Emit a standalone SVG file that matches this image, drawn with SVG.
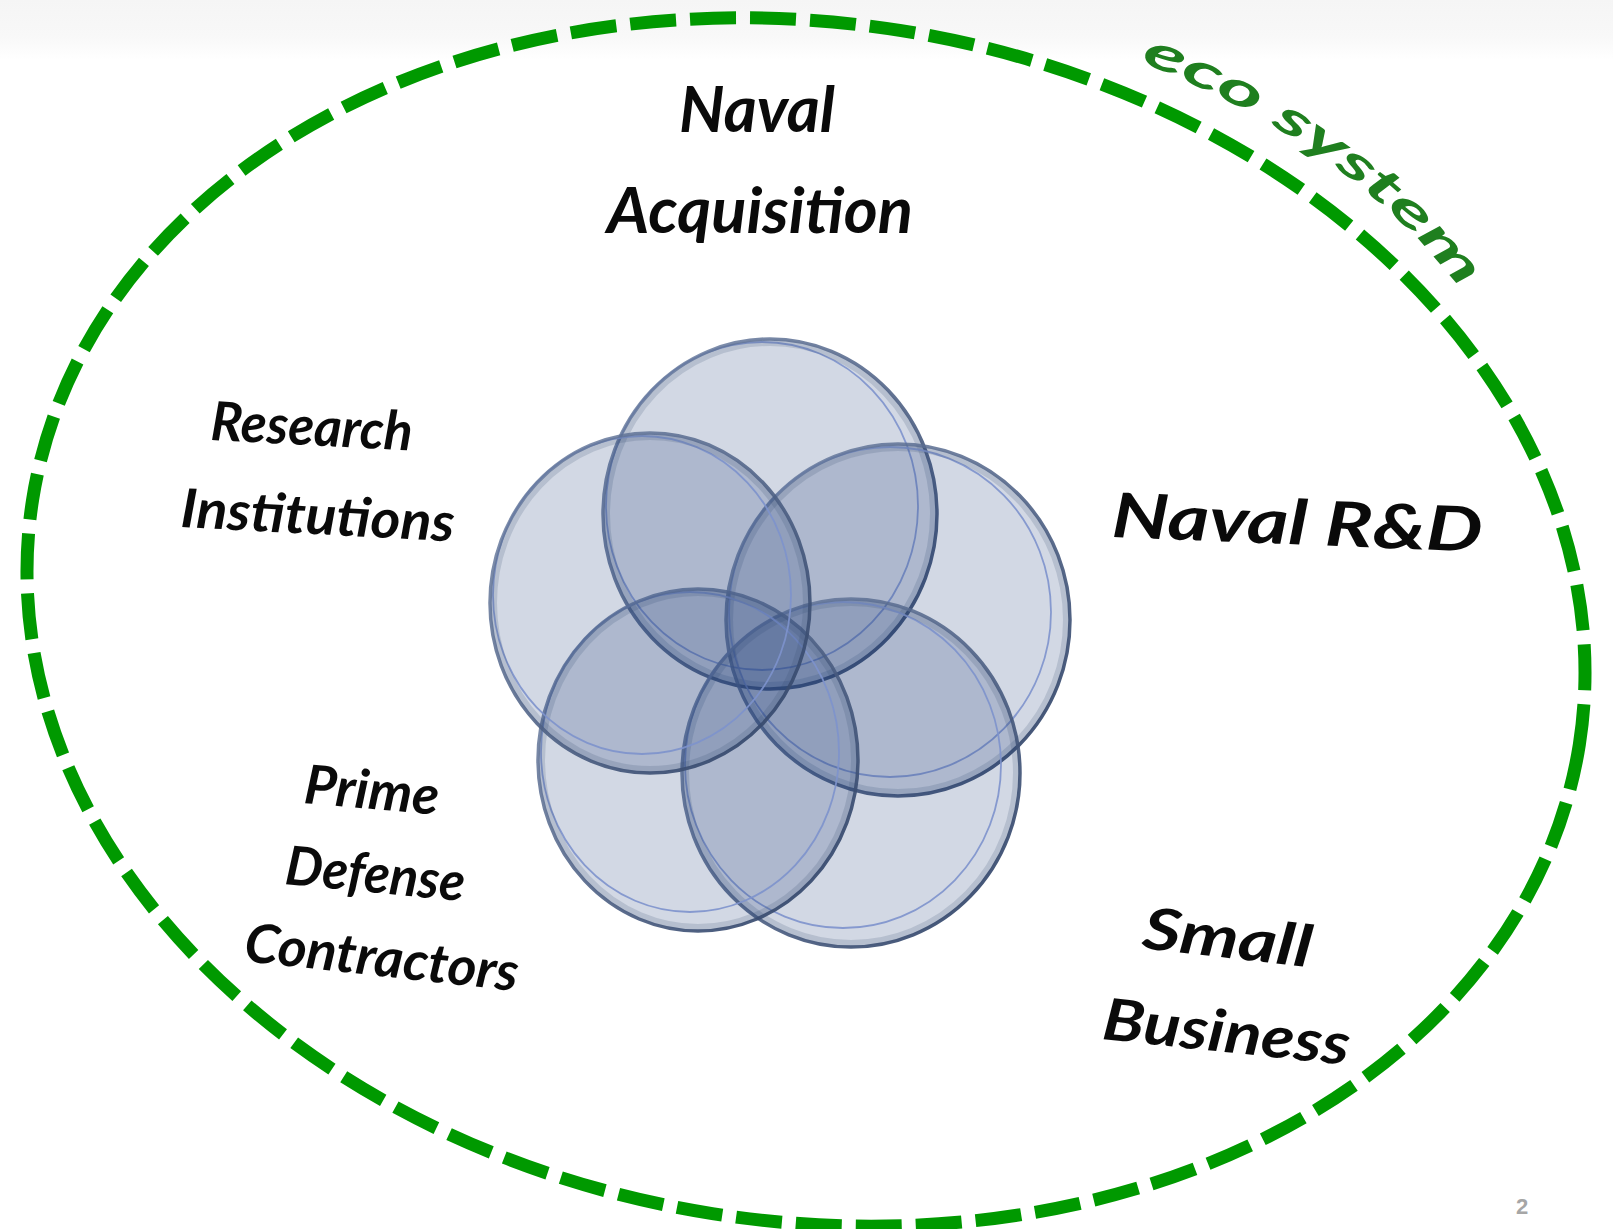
<svg xmlns="http://www.w3.org/2000/svg" width="1613" height="1229" viewBox="0 0 1613 1229">
  <style>
    .lbl { font-family: Lato, "Open Sans", "DejaVu Sans", sans-serif; font-style: italic; font-weight: 700; fill: #0a0a0a; }
    .eco { font-family: Lato, "Open Sans", "DejaVu Sans", sans-serif; font-style: italic; font-weight: 700; fill: #1f7f1f; font-size: 48px; }
    .disc { fill: #1f3a78; fill-opacity: 0.2; }
    .rim { fill: none; stroke: url(#rimGrad); stroke-width: 3.5; }
    .bevel { fill: none; stroke: #3a4d70; stroke-width: 6; stroke-opacity: 0.18; }
    .inner { fill: none; stroke: #7d92cc; stroke-width: 1.8; stroke-opacity: 0.9; }
    .border { fill: none; stroke: #009900; stroke-width: 13; stroke-dasharray: 46 14; }
    .pg { font-family: "Liberation Sans", Arial, sans-serif; font-weight: 700; font-size: 22px; fill: #a6a6a6; }
  </style>
  <defs>
    <linearGradient id="rimGrad" x1="0" y1="0" x2="1" y2="1">
      <stop offset="0" stop-color="#6c7fa3" stop-opacity="0.8"/>
      <stop offset="1" stop-color="#2f4266" stop-opacity="0.95"/>
    </linearGradient>
    <linearGradient id="topBand" x1="0" y1="0" x2="0" y2="1">
      <stop offset="0" stop-color="#f5f5f5"/>
      <stop offset="0.6" stop-color="#f8f8f8"/>
      <stop offset="1" stop-color="#ffffff"/>
    </linearGradient>
    <path id="ecoPath" d="M 1140 62 Q 1335 138 1445 270"/>
  </defs>

  <rect x="0" y="0" width="1613" height="1229" fill="#ffffff"/>
  <rect x="0" y="0" width="1613" height="60" fill="url(#topBand)"/>

  <g id="ecosystem">
    <ellipse class="border" cx="806" cy="622" rx="783" ry="599" transform="rotate(9 806 622)"/>
    <text class="eco"><textPath href="#ecoPath" textLength="398" lengthAdjust="spacingAndGlyphs">eco system</textPath></text>
  </g>

  <g id="circles">
    <g id="node-acquisition-disc">
      <ellipse class="disc" cx="770" cy="514" rx="167" ry="175"/>
      <ellipse class="inner" cx="762" cy="506" rx="156" ry="164"/>
      <ellipse class="bevel" cx="770" cy="514" rx="163" ry="171"/>
      <ellipse class="rim" cx="770" cy="514" rx="167" ry="175"/>
    </g>
    <g id="node-rd-disc">
      <ellipse class="disc" cx="898" cy="620" rx="172" ry="176"/>
      <ellipse class="inner" cx="890" cy="612" rx="161" ry="165"/>
      <ellipse class="bevel" cx="898" cy="620" rx="168" ry="172"/>
      <ellipse class="rim" cx="898" cy="620" rx="172" ry="176"/>
    </g>
    <g id="node-small-disc">
      <ellipse class="disc" cx="851" cy="773" rx="169" ry="174"/>
      <ellipse class="inner" cx="843" cy="765" rx="158" ry="163"/>
      <ellipse class="bevel" cx="851" cy="773" rx="165" ry="170"/>
      <ellipse class="rim" cx="851" cy="773" rx="169" ry="174"/>
    </g>
    <g id="node-prime-disc">
      <ellipse class="disc" cx="698" cy="760" rx="160" ry="171"/>
      <ellipse class="inner" cx="690" cy="752" rx="149" ry="160"/>
      <ellipse class="bevel" cx="698" cy="760" rx="156" ry="167"/>
      <ellipse class="rim" cx="698" cy="760" rx="160" ry="171"/>
    </g>
    <g id="node-research-disc">
      <ellipse class="disc" cx="650" cy="603" rx="160" ry="170"/>
      <ellipse class="inner" cx="642" cy="595" rx="149" ry="159"/>
      <ellipse class="bevel" cx="650" cy="603" rx="156" ry="166"/>
      <ellipse class="rim" cx="650" cy="603" rx="160" ry="170"/>
    </g>
  </g>

  <g id="connectors"></g>

  <g id="label-acquisition">
    <text class="lbl" x="679" y="132" font-size="64" textLength="156" lengthAdjust="spacingAndGlyphs">Naval</text>
    <text class="lbl" x="607" y="233" font-size="64" textLength="306" lengthAdjust="spacingAndGlyphs">Acquisition</text>
  </g>
  <g id="label-research">
    <text class="lbl" x="210" y="440" font-size="54" textLength="202" lengthAdjust="spacingAndGlyphs" transform="rotate(3 210 440)">Research</text>
    <text class="lbl" x="180" y="527" font-size="54" textLength="274" lengthAdjust="spacingAndGlyphs" transform="rotate(3 180 527)">Institutions</text>
  </g>
  <g id="label-rd">
    <text class="lbl" x="1111" y="537" font-size="62" textLength="371" lengthAdjust="spacingAndGlyphs" transform="rotate(2.3 1111 537)">Naval R&amp;D</text>
  </g>
  <g id="label-prime">
    <text class="lbl" x="303" y="803" font-size="54" textLength="135" lengthAdjust="spacingAndGlyphs" transform="rotate(5 303 803)">Prime</text>
    <text class="lbl" x="284" y="884" font-size="54" textLength="180" lengthAdjust="spacingAndGlyphs" transform="rotate(5.5 284 884)">Defense</text>
    <text class="lbl" x="243" y="961" font-size="54" textLength="275" lengthAdjust="spacingAndGlyphs" transform="rotate(6.3 243 961)">Contractors</text>
  </g>
  <g id="label-small">
    <text class="lbl" x="1141" y="948" font-size="58" textLength="170" lengthAdjust="spacingAndGlyphs" transform="rotate(6.5 1141 948)">Small</text>
    <text class="lbl" x="1101" y="1039" font-size="58" textLength="248" lengthAdjust="spacingAndGlyphs" transform="rotate(6 1101 1039)">Business</text>
  </g>

  <text class="pg" x="1516" y="1214">2</text>
</svg>
